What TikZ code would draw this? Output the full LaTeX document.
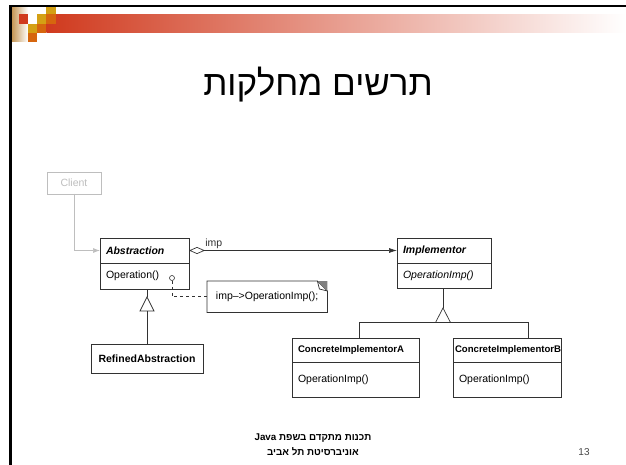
\documentclass[tikz,border=0pt]{standalone}
\usepackage{fontspec}
\setmainfont{Liberation Sans}
\newfontfamily\hebfont[Script=Hebrew]{Liberation Sans}
\TeXXeTstate=1
\usetikzlibrary{arrows.meta,positioning}

\definecolor{slidered}{RGB}{208,58,30}
\definecolor{slidegold}{RGB}{212,160,20}
\definecolor{slideorange}{RGB}{214,102,14}
\definecolor{slidetan}{RGB}{196,150,86}
\definecolor{umlgray}{RGB}{50,50,50}
\definecolor{clientgray}{RGB}{190,190,190}
\definecolor{numgray}{RGB}{70,70,70}

\newcommand\umlfont{\fontsize{10.5}{12}\selectfont\hyphenpenalty=10000\relax}
\newcommand\conhfont{\fontsize{9.6}{11}\selectfont\hyphenpenalty=10000\relax}

\tikzset{
  clsbox/.style={draw=umlgray,line width=0.7pt,fill=white,anchor=north west,
    inner xsep=6pt,inner ysep=0pt,outer sep=0pt,align=left,font=\umlfont},
  umlline/.style={umlgray,line width=0.7pt},
}

\begin{document}
\begin{tikzpicture}[x=1pt,y=-1pt]
\useasboundingbox (0,0) rectangle (626,465);

\shade[left color=slidetan,right color=white] (12,8) rectangle (28,42);
\shade[left color=slidered,right color=white] (46.4,14.3) rectangle (626,32.9);
\foreach \c/\r/\col in {3/0/slidegold,0/1/slidered,2/1/slidegold,3/1/slideorange,
  1/2/slidegold,2/2/slideorange,1/3/slideorange}
  \fill[\col] (18.5+9.3*\c,5+9.3*\r) rectangle ++(9.3,9.3);
\draw[line width=2.6pt] (10.5,465) -- (10.5,6) -- (626,6);

\node[anchor=base] (title) at (318,96) {\hebfont\fontsize{35}{40}\selectfont\beginR תרשים מחלקות\endR};

\node[clsbox,draw=clientgray,text=clientgray,align=center,text width=42pt,minimum height=22pt] (client) at (47,172) {Client};

\node[clsbox,text width=77pt,minimum height=25pt] (abshead) at (100,238) {\textbf{\textit{Abstraction}}};
\node[clsbox,text width=77pt,minimum height=26pt] (absbody) at (abshead.south west) {Operation()};
\node[circle,draw=umlgray,fill=white,line width=0.6pt,inner sep=0pt,minimum size=5pt] (opdot) at (172,278) {};

\node[clsbox,text width=82pt,minimum height=25pt] (imphead) at (397,238) {\textbf{\textit{Implementor}}};
\node[clsbox,text width=82pt,minimum height=25pt] (impbody) at (imphead.south west) {\textit{OperationImp()}};

\node[clsbox,align=center,text width=100pt,minimum height=29pt] (refined) at (91,344) {\textbf{RefinedAbstraction}};

\node[clsbox,font=\conhfont,text width=115pt,minimum height=24pt] (conahead) at (292,338) {\textbf{ConcreteImplementorA}};
\node[clsbox,text width=115pt,minimum height=35pt] (conabody) at (conahead.south west) {OperationImp()};
\node[clsbox,font=\conhfont,inner xsep=2pt,text width=104pt,minimum height=24pt] (conbhead) at (453,338) {\textbf{ConcreteImplementorB}};
\node[clsbox,inner xsep=6pt,text width=96pt,minimum height=35pt] (conbbody) at (conbhead.south west) {OperationImp()};

\node[anchor=north west,inner xsep=8pt,inner ysep=0pt,minimum width=120pt,minimum height=31pt,font=\umlfont] (note) at (207,281) {imp–>OperationImp();};
\draw[umlline] (note.north west) -- ([xshift=-10pt]note.north east) -- ([yshift=-10pt]note.north east) -- (note.south east) -- (note.south west) -- cycle;
\fill[gray] ([xshift=-10pt]note.north east) -- (note.north east) -- ([yshift=-10pt]note.north east) -- cycle;
\draw[umlline] ([xshift=-10pt]note.north east) -- ([xshift=-8pt,yshift=-8pt]note.north east) -- ([yshift=-10pt]note.north east);

\draw[clientgray,line width=0.7pt,-{Latex[length=7pt,width=5pt]}] (client.south) |- (abshead.west);
\draw[umlline,{Diamond[open,length=16pt,width=7pt]}-{Latex[length=8pt,width=5pt]}] (abshead.east) -- node[pos=0,anchor=south west,xshift=15pt,inner sep=1pt,font=\umlfont] (implbl) {imp} (imphead.west);
\draw[umlline,dashed] (opdot.south) |- (note.west);

\coordinate (abstri) at (147,297);
\draw[umlline] (abstri |- absbody.south) -- (abstri);
\draw[umlline,fill=white] (abstri) -- ++(-7,14) -- ++(14,0) -- cycle;
\draw[umlline] (abstri) ++(0,14) -- (abstri |- refined.north);

\coordinate (imptri) at (443,308);
\coordinate (forka) at (359,322.5);
\coordinate (forkb) at (528,322.5);
\draw[umlline] (imptri |- impbody.south) -- (imptri);
\draw[umlline,fill=white] (imptri) -- ++(-7.5,14.5) -- ++(15,0) -- cycle;
\draw[umlline] (forka |- conahead.north) -- (forka) -- (forkb) -- (forkb |- conbhead.north);

\node[align=center,font=\hebfont\bfseries\fontsize{9.8}{15}\selectfont] (footer) at (313,445) {\beginR תכנות מתקדם בשפת \beginL Java\endL\endR\\\beginR אוניברסיטת תל אביב\endR};
\node[anchor=base,text=numgray,font=\fontsize{10}{12}\selectfont] (pagenum) at (584,455) {13};
\end{tikzpicture}
\end{document}
